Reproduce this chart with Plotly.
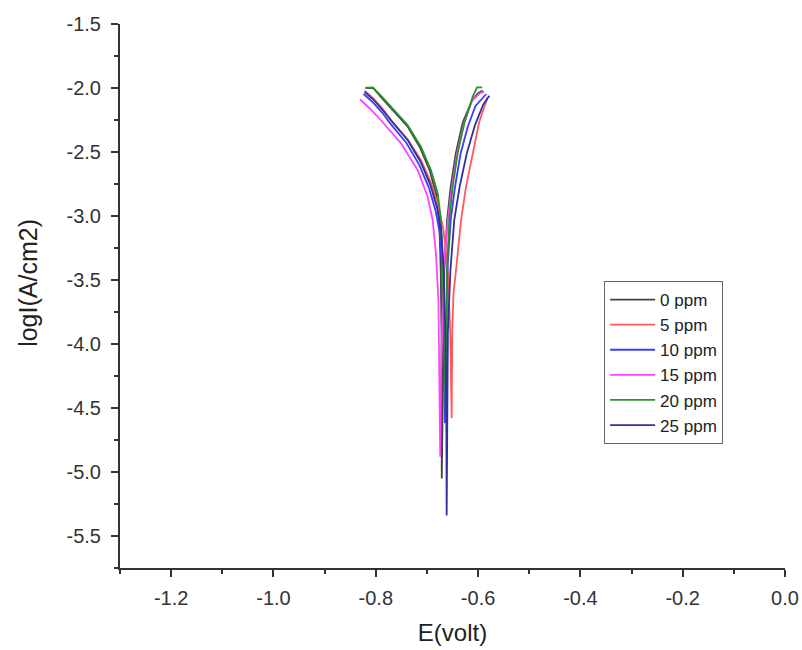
import plotly.graph_objects as go

# ---- data (E in volt, logI in A/cm2) ----
series_names = ["0 ppm", "5 ppm", "10 ppm", "15 ppm", "20 ppm", "25 ppm"]

e_0ppm = [-0.818, -0.805, -0.788, -0.770, -0.738, -0.713, -0.694, -0.682, -0.676, -0.673, -0.6715, -0.671,
          -0.6685, -0.666, -0.6605, -0.6535, -0.6435, -0.630, -0.612, -0.600, -0.591]
l_0ppm = [-2.00, -2.00, -2.08, -2.16, -2.30, -2.47, -2.65, -2.83, -3.03, -3.42, -3.90, -5.05,
          -3.90, -3.42, -3.03, -2.77, -2.51, -2.27, -2.10, -2.04, -2.02]

e_5ppm = [-0.8216, -0.805, -0.787, -0.770, -0.738, -0.712, -0.693, -0.678, -0.668, -0.659, -0.6545, -0.6516,
          -0.6505, -0.648, -0.643, -0.6333, -0.6235, -0.610, -0.598, -0.588, -0.581]
l_5ppm = [-2.02, -2.08, -2.16, -2.25, -2.40, -2.56, -2.73, -2.92, -3.10, -3.42, -3.90, -4.58,
          -3.90, -3.60, -3.42, -3.03, -2.77, -2.51, -2.27, -2.15, -2.07]

e_10ppm = [-0.824, -0.806, -0.788, -0.771, -0.740, -0.715, -0.696, -0.683, -0.675, -0.670, -0.667, -0.6647,
           -0.6625, -0.660, -0.6535, -0.645, -0.634, -0.620, -0.605, -0.592, -0.584]
l_10ppm = [-2.047, -2.11, -2.19, -2.28, -2.43, -2.60, -2.78, -2.96, -3.13, -3.42, -3.90, -4.62,
           -3.90, -3.42, -3.03, -2.77, -2.51, -2.30, -2.14, -2.08, -2.047]

e_15ppm = [-0.8308, -0.8118, -0.7902, -0.751, -0.7182, -0.6986, -0.6888, -0.6824, -0.6775, -0.6755, -0.674,
           -0.6725, -0.669, -0.665, -0.659, -0.651, -0.641, -0.628, -0.612, -0.596, -0.588]
l_15ppm = [-2.088, -2.16, -2.25, -2.43, -2.64, -2.85, -3.03, -3.29, -3.66, -4.28, -4.88,
           -4.28, -3.66, -3.30, -3.03, -2.77, -2.51, -2.28, -2.10, -2.04, -2.029]

e_20ppm = [-0.8206, -0.806, -0.790, -0.7706, -0.7378, -0.7118, -0.6922, -0.679, -0.6725, -0.669, -0.666, -0.6627,
           -0.661, -0.6608, -0.6563, -0.6496, -0.6398, -0.6269, -0.6104, -0.602, -0.592]
l_20ppm = [-2.00, -1.995, -2.06, -2.146, -2.289, -2.459, -2.641, -2.820, -3.031, -3.42, -3.90, -4.617,
           -3.90, -3.422, -3.031, -2.771, -2.508, -2.273, -2.068, -1.995, -1.995]

e_25ppm = [-0.822, -0.805, -0.787, -0.769, -0.737, -0.712, -0.693, -0.680, -0.672, -0.667, -0.664, -0.662, -0.6614,
           -0.6605, -0.659, -0.654, -0.6465, -0.636, -0.622, -0.606, -0.590, -0.578]
l_25ppm = [-2.03, -2.09, -2.17, -2.26, -2.41, -2.58, -2.76, -2.94, -3.12, -3.42, -3.90, -4.60, -5.34,
           -4.60, -3.90, -3.42, -3.03, -2.77, -2.51, -2.29, -2.13, -2.06]

x_tickvals = [-1.2, -1.0, -0.8, -0.6, -0.4, -0.2, 0.0]
x_ticktext = ["-1.2", "-1.0", "-0.8", "-0.6", "-0.4", "-0.2", "0.0"]
y_tickvals = [-1.5, -2.0, -2.5, -3.0, -3.5, -4.0, -4.5, -5.0, -5.5]
y_ticktext = ["-1.5", "-2.0", "-2.5", "-3.0", "-3.5", "-4.0", "-4.5", "-5.0", "-5.5"]

x_title = "E(volt)"
y_title = "logI(A/cm2)"

xs = [e_0ppm, e_5ppm, e_10ppm, e_15ppm, e_20ppm, e_25ppm]
ys = [l_0ppm, l_5ppm, l_10ppm, l_15ppm, l_20ppm, l_25ppm]
colors = ["#444444", "#ff5a5a", "#3c3cff", "#ff44ff", "#2f8f2f", "#30309a"]

FONT = "Liberation Sans, Arial, sans-serif"
fig = go.Figure()
for name, x, y, c in zip(series_names, xs, ys, colors):
    fig.add_trace(go.Scatter(x=x, y=y, mode="lines", name=name,
                             line=dict(color=c, width=1.8)))

axis_common = dict(
    showline=True, linecolor="#333333", linewidth=2,
    ticks="outside", ticklen=7, tickwidth=1.5, tickcolor="#333333",
    showgrid=False, zeroline=False, mirror=False,
    tickfont=dict(family=FONT, size=20, color="#333333"),
)

fig.update_xaxes(
    range=[-1.3, 0.0], tickvals=x_tickvals, ticktext=x_ticktext,
    minor=dict(dtick=0.1, tick0=0, ticks="outside", ticklen=4, tickwidth=1.5, tickcolor="#333333", showgrid=False),
    title=dict(text=x_title, font=dict(family=FONT, size=24, color="#222222"), standoff=16),
    ticklabelstandoff=4,
    **axis_common,
)
fig.update_yaxes(
    range=[-5.75, -1.5], tickvals=y_tickvals, ticktext=y_ticktext,
    minor=dict(dtick=0.25, tick0=0, ticks="outside", ticklen=4, tickwidth=1.5, tickcolor="#333333", showgrid=False),
    ticklabelstandoff=6,
    **axis_common,
)

fig.add_annotation(
    text=y_title, textangle=-90, showarrow=False,
    xref="paper", yref="paper", x=-0.1385, y=0.524,
    xanchor="center", yanchor="middle",
    font=dict(family=FONT, size=25, color="#222222"),
)

fig.update_layout(
    width=802, height=650,
    margin=dict(l=120, r=17, t=24, b=82, autoexpand=False),
    plot_bgcolor="white", paper_bgcolor="white",
    showlegend=True,
    legend=dict(
        x=0.728, y=0.5276, xanchor="left", yanchor="top",
        bgcolor="white", bordercolor="#666666", borderwidth=1,
        font=dict(family=FONT, size=17, color="#222222"),
        itemwidth=45, tracegroupgap=0,
    ),
)

fig.write_html(
    "out.html",
    config={"displayModeBar": False},
    post_script="document.body.style.margin='0';document.body.style.overflow='hidden';",
)
